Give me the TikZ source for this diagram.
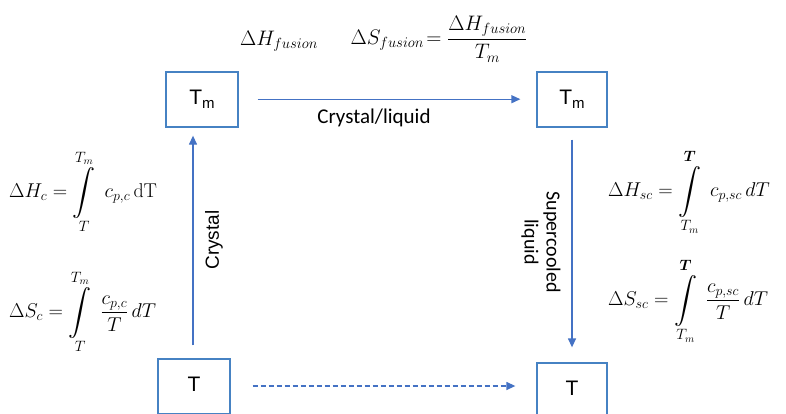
\documentclass[tikz,border=0pt]{standalone}
\usepackage{fix-cm}
\usepackage{amsmath,amssymb,bm}
\usepackage{fontspec}
\newfontfamily\arialf{Liberation Sans}
\newfontfamily\calf{Carlito}
\usetikzlibrary{arrows.meta}
\definecolor{arrblue}{RGB}{68,114,196}
\definecolor{boxblue}{RGB}{70,130,195}
\newcommand{\limfont}{\fontsize{15}{16}\selectfont}
\newcommand{\myint}[2]{\mathop{\vcenter{\hbox{\scalebox{1.15}{$\displaystyle\int$}}}}\limits_{\raisebox{-1pt}{\limfont$#1$}}^{\raisebox{1pt}{\limfont$#2$}}}
\begin{document}
\begin{tikzpicture}[x=1pt,y=-1pt,
  statebox/.style={draw=boxblue,line width=1.3pt,minimum width=71pt,minimum height=55pt,inner sep=0pt,font=\arialf\fontsize{21}{24}\selectfont},
  arr/.style={draw=arrblue,line width=1.3pt,-{Triangle[length=9pt,width=8pt]}},
  dasharr/.style={arr,dash pattern=on 5pt off 3pt},
  eq/.style={inner sep=0pt,font=\fontsize{20}{24}\selectfont},
  eqtop/.style={inner sep=0pt,font=\fontsize{21}{25}\selectfont},
  lab/.style={inner sep=0pt}]
\useasboundingbox (0,0) rectangle (786,413);
\node[statebox,minimum width=72pt] (Tm1) at (202,99.5) {\raisebox{4pt}{T\raisebox{-4pt}{\fontsize{15}{16}\selectfont m}}};
\node[statebox,minimum width=70pt] (Tm2) at (572,99.5) {\raisebox{4pt}{T\raisebox{-4pt}{\fontsize{15}{16}\selectfont m}}};
\node[statebox,minimum width=72pt] (Tb1) at (194,386.5) {\raisebox{5pt}{T}};
\node[statebox,minimum width=70pt] (Tb2) at (572,390.5) {\raisebox{4pt}{T}};
\draw[arr] ([xshift=19pt,yshift=0.3pt]Tm1.east) -- ([xshift=-16pt,yshift=0.3pt]Tm2.west);
\draw[dasharr] ([xshift=22pt,yshift=0.5pt]Tb1.east) -- ([xshift=-21pt,yshift=0.5pt]Tb1.east -| Tb2.west);
\draw[arr] ([xshift=-1pt,yshift=13pt]Tb1.north) -- ([xshift=-1pt,yshift=-8pt]Tb1.north |- Tm1.south);
\draw[arr] ([yshift=-12pt]Tm2.south) -- ([yshift=15pt]Tb2.north);
\node[lab,font=\calf\fontsize{21}{24}\selectfont] (cl) at (374,117.5) {Crystal/liquid};
\node[lab,rotate=90,font=\arialf\fontsize{19}{22}\selectfont] (cr) at (214,240) {Crystal};
\node[lab,rotate=-90,align=center,font=\calf\fontsize{20}{22}\selectfont] (sc) at (541,242) {Supercooled\\liquid};
\node[eqtop] (hf) at (279,41) {$\Delta H_{fusion}$};
\node[eqtop] (sf) at (439,39) {$\Delta S_{fusion}\!=\dfrac{\Delta H_{fusion}}{T_m}$};
\node[eq,anchor=west] (hc) at (9,192) {$\Delta H_c = \myint{T}{T_m}\; c_{p,c}\,\mathrm{dT}$};
\node[eq,anchor=west] (sc2) at (9,312) {$\Delta S_c = \myint{T}{T_m}\; \dfrac{c_{p,c}}{T}\,dT$};
\node[eq,anchor=west] (hsc) at (608,192) {$\Delta H_{sc} = \myint{T_m}{\boldsymbol{T}}\; c_{p,sc}\,dT$};
\node[eq,anchor=west] (ssc) at (608,301) {$\Delta S_{sc} = \myint{T_m}{\boldsymbol{T}}\; \dfrac{c_{p,sc}}{T}\,dT$};
\end{tikzpicture}
\end{document}
